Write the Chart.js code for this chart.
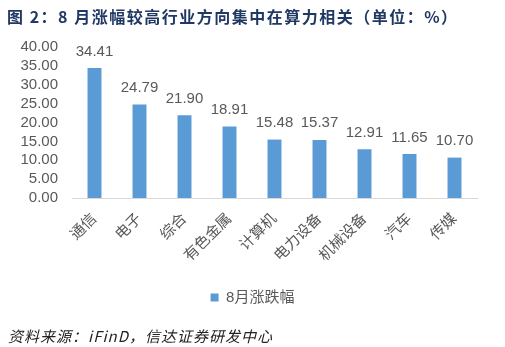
<!DOCTYPE html>
<html>
<head>
<meta charset="utf-8">
<script src="https://cdn.jsdelivr.net/npm/chart.js@4/dist/chart.umd.min.js"></script>
<style>
  body { margin: 0; background: #fff; }
  #wrap { position: relative; width: 505px; height: 347px; }
  #title {
    position: absolute; left: 7px; top: 4px;
    font: bold 16px 'Noto Sans CJK SC', sans-serif;
    color: #1F3864; letter-spacing: 1.5px; white-space: nowrap;
  }
  #source {
    position: absolute; left: 8px; top: 325px;
    font: italic 15px 'Noto Sans CJK SC', sans-serif;
    color: #222; letter-spacing: 1px; white-space: nowrap;
  }
</style>
</head>
<body>
<div id="wrap">
  <canvas id="barChart" width="505" height="347"></canvas>
  <div id="title">图 2：8 月涨幅较高行业方向集中在算力相关（单位：%）</div>
  <div id="source">资料来源：iFinD，信达证券研发中心</div>
</div>
<script>
const industries = ['通信', '电子', '综合', '有色金属', '计算机', '电力设备', '机械设备', '汽车', '传媒'];
const augustChange = [34.41, 24.79, 21.90, 18.91, 15.48, 15.37, 12.91, 11.65, 10.70];
const seriesName = '8月涨跌幅';

const FONT = "'Liberation Sans', 'Noto Sans CJK SC', sans-serif";
Chart.defaults.font.family = FONT;
Chart.defaults.color = '#595959';

// value labels above each bar
const barValues = {
    id: 'barValues',
    afterDatasetsDraw(chart) {
        const ctx = chart.ctx;
        const meta = chart.getDatasetMeta(0);
        ctx.save();
        ctx.font = '15px ' + FONT;
        ctx.fillStyle = '#595959';
        ctx.textAlign = 'center';
        ctx.textBaseline = 'alphabetic';
        meta.data.forEach((bar, i) => {
            ctx.fillText(augustChange[i].toFixed(2), bar.x, bar.y - 12.5);
        });
        ctx.restore();
    }
};

const configBarChart = {
    type: 'bar',
    data: {
        labels: industries,
        datasets: [{
            label: seriesName,
            data: augustChange,
            backgroundColor: '#5B9BD5',
            borderWidth: 0,
            categoryPercentage: 1,
            barPercentage: 0.31
        }]
    },
    options: {
        responsive: false,
        animation: false,
        layout: { padding: { left: 0, right: 0, top: 47, bottom: 32 } },
        scales: {
            x: {
                grid: { display: false },
                border: { color: '#D9D9D9', width: 1 },
                ticks: {
                    font: { size: 15 },
                    color: '#595959',
                    minRotation: 45,
                    maxRotation: 45,
                    autoSkip: false,
                    padding: 4
                },
                afterFit(scale) { scale.height = 82; }
            },
            y: {
                min: 0,
                max: 40,
                grid: { display: false, drawTicks: false },
                border: { display: false },
                ticks: {
                    stepSize: 5,
                    padding: 14,
                    autoSkip: false,
                    font: { size: 15 },
                    color: '#595959',
                    callback: v => v.toFixed(2)
                },
                afterFit(scale) { scale.width = 72; }
            },
            // empty right-hand margin so the legend stays centred on the page
            yRight: {
                position: 'right',
                grid: { display: false, drawTicks: false },
                border: { display: false },
                ticks: { display: false },
                afterFit(scale) { scale.width = 28; }
            }
        },
        plugins: {
            legend: {
                position: 'bottom',
                labels: {
                    boxWidth: 8,
                    boxHeight: 8,
                    padding: 10,
                    font: { size: 15 },
                    color: '#595959'
                }
            },
            tooltip: { enabled: false },
            title: { display: false }
        }
    },
    plugins: [barValues]
};

const barChart = new Chart(document.getElementById('barChart'), configBarChart);
</script>
</body>
</html>
